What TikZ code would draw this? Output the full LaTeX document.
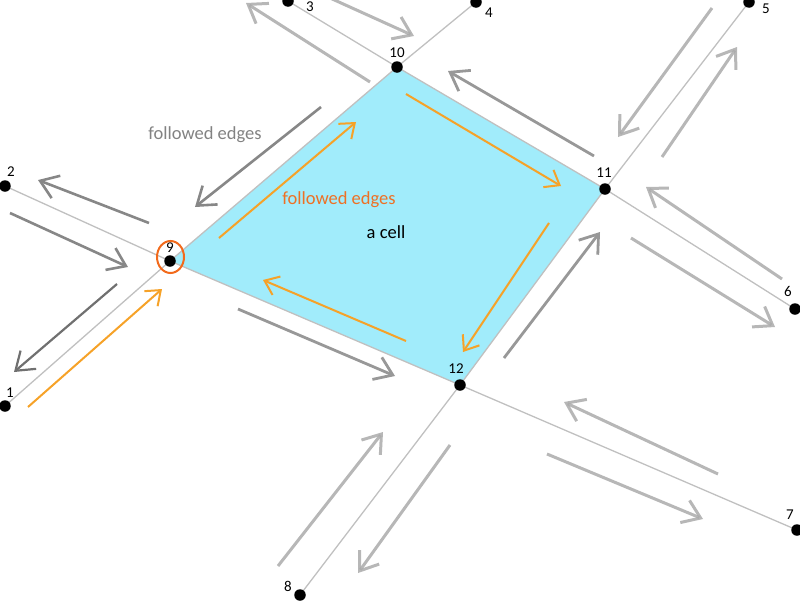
\documentclass[tikz,border=0pt]{standalone}
\usepackage{fontspec}
\setmainfont{Carlito}
\usetikzlibrary{arrows.meta}
\definecolor{cellfill}{RGB}{161,236,251}
\definecolor{edgegray}{RGB}{192,192,192}
\definecolor{arrgray}{RGB}{135,135,135}
\definecolor{arrmid}{RGB}{152,152,152}
\definecolor{arrlight}{RGB}{170,170,170}
\definecolor{arrdark}{RGB}{112,112,112}
\definecolor{orarrow}{RGB}{246,162,40}
\definecolor{orring}{RGB}{242,106,28}
\definecolor{ortext}{RGB}{238,112,36}
\definecolor{graytext}{RGB}{130,130,130}
\begin{document}
\begin{tikzpicture}[x=1pt,y=-1pt,
  vertex/.style={circle,fill=black,inner sep=0pt,minimum size=11.5pt},
  num/.style={font=\fontsize{15}{16}\selectfont,inner sep=0pt},
  edge/.style={draw=edgegray,line width=1.3pt},
  garrow/.style={draw=arrgray,line width=2.6pt,-{Straight Barb[length=17pt,width=24pt,line width=2.6pt]}},
  marrow/.style={draw=arrmid,line width=2.8pt,-{Straight Barb[length=17pt,width=24pt,line width=2.8pt]}},
  larrow/.style={draw=arrlight,line width=3pt,opacity=0.85,-{Straight Barb[length=17pt,width=24pt,line width=3pt]}},
  darrow/.style={draw=arrdark,line width=2.2pt,-{Straight Barb[length=17pt,width=24pt,line width=2.2pt]}},
  oarrow/.style={draw=orarrow,line width=2pt,-{Straight Barb[length=13pt,width=20pt,line width=2pt]}},
  lbl/.style={font=\fontsize{18.5}{20}\selectfont,inner sep=0pt}]
\useasboundingbox (0,0) rectangle (800,600);
% vertices
\coordinate (p1) at (5,406);
\coordinate (p2) at (5,186);
\coordinate (p3) at (288,1);
\coordinate (p4) at (476,2);
\coordinate (p5) at (749,2);
\coordinate (p6) at (795,309);
\coordinate (p7) at (797,530);
\coordinate (p8) at (300,595);
\coordinate (p9) at (170,261);
\coordinate (p10) at (397,67);
\coordinate (p11) at (605,189);
\coordinate (p12) at (460,385);
% cell
\fill[cellfill] (p9) -- (p10) -- (p11) -- (p12) -- cycle;
% edges
\draw[edge] (p1) -- (p9);
\draw[edge] (p2) -- (p9);
\draw[edge] (p9) -- (p10);
\draw[edge] (p9) -- (p12);
\draw[edge] (p3) -- (p10);
\draw[edge] (p4) -- (p10);
\draw[edge] (p10) -- (p11);
\draw[edge] (p5) -- (p11);
\draw[edge] (p6) -- (p11);
\draw[edge] (p11) -- (p12);
\draw[edge] (p7) -- (p12);
\draw[edge] (p8) -- (p12);
% vertex dots
\foreach \i in {1,...,12} \node[vertex] (v\i) at (p\i) {};
% labels
\node[num] (n1) at (10,393) {1};
\node[num] (n2) at (11,172) {2};
\node[num] (n3) at (310,7) {3};
\node[num] (n4) at (489,13) {4};
\node[num] (n5) at (766,9) {5};
\node[num] (n6) at (788,291) {6};
\node[num] (n7) at (790,515) {7};
\node[num] (n8) at (288,586) {8};
\node[num] (n9) at (170,248) {9};
\node[num] (n10) at (397,53) {10};
\node[num] (n11) at (604,173) {11};
\node[num] (n12) at (456,369) {12};
% ring around 9
\draw[orring,line width=2pt] (170.5,257) ellipse [x radius=13.5,y radius=16];
% gray arrows
\draw[garrow] (321,107) -- (195,207);
\draw[garrow] (149,223) -- (38,180);
\draw[garrow] (10,213) -- (128,267);
\draw[darrow] (117,284) -- (14,372);
\draw[larrow] (370,82) -- (246,3);
\draw[larrow] (330,-2) -- (414,36);
\draw[marrow] (594,156) -- (448,71);
\draw[larrow] (712,8) -- (618,137);
\draw[larrow] (662,157) -- (737,47);
\draw[larrow] (782,279) -- (646,187);
\draw[larrow] (631,238) -- (775,327);
\draw[marrow] (504,358) -- (600,232);
\draw[larrow] (718,474) -- (564,402);
\draw[larrow] (547,454) -- (703,519);
\draw[larrow] (278,566) -- (383,432);
\draw[larrow] (450,445) -- (358,573);
\draw[marrow] (238,309) -- (395,376);
% orange arrows
\draw[oarrow] (28,407) -- (162,289);
\draw[oarrow] (219,238) -- (356,122);
\draw[oarrow] (406,94) -- (561,186);
\draw[oarrow] (549,223) -- (463,352);
\draw[oarrow] (406,341) -- (263,280);
% texts
\node[lbl,text=graytext] (t1) at (205,135) {followed edges};
\node[lbl,text=ortext] (t2) at (339,200) {followed edges};
\node[lbl] (t3) at (386,232) {a cell};
\end{tikzpicture}
\end{document}
